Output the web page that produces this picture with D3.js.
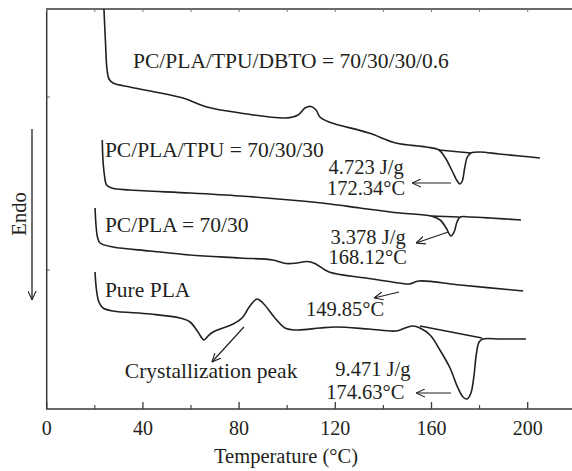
<!DOCTYPE html>
<html>
<head>
<meta charset="utf-8">
<script src="https://cdn.jsdelivr.net/npm/d3@7"></script>
<style>
    html, body { margin: 0; padding: 0; background: #fff; }
    #chart { width: 572px; height: 471px; }
    text { font-family: "Liberation Serif", "Times New Roman", serif; fill: #231f20; }
</style>
</head>
<body>
<div id="chart"></div>
<script>
// DSC curves, [temperature °C, heat flow (arbitrary units, offset per curve)]
const dbtoCurve = [
    [23.8, 400], [24.4, 369], [25.1, 339], [25.9, 330], [27.6, 326], [34.6, 322],
    [43.0, 318], [56.7, 311], [66.6, 302], [80.4, 296], [99.5, 291], [104.5, 294],
    [107.4, 301], [109.9, 302.5], [112.0, 299], [113.6, 292], [117.4, 287], [134.0, 276],
    [145.2, 266], [157.7, 262], [163.1, 259], [165.8, 251], [168.8, 237], [170.7, 228],
    [171.8, 225], [172.8, 228], [173.8, 241], [174.9, 252], [176.4, 256], [180.2, 257],
    [188.1, 255], [196.8, 253], [205.1, 251]
];
const tpuCurve = [
    [23.1, 269], [23.4, 249], [24.0, 234], [24.9, 224], [27.0, 221], [34.6, 219],
    [59.6, 216], [80.4, 213], [101.2, 209], [117.8, 205], [130.3, 201], [146.9, 196],
    [159.8, 193], [163.6, 189], [166.1, 181], [168.1, 173], [169.4, 177], [170.6, 187],
    [171.9, 192], [176.0, 192], [184.4, 191], [197.2, 189]
];
const pcplaCurve = [
    [20.1, 201], [20.5, 184], [21.1, 172], [22.2, 166], [27.6, 162], [43.0, 158],
    [59.6, 154], [80.4, 151], [94.1, 149], [99.5, 145.5], [104.0, 146], [108.2, 147.5],
    [111.5, 145.5], [117.4, 137], [132.8, 131], [146.5, 126], [150.7, 125], [154.8, 128],
    [171.9, 124], [198.1, 118]
];
const plaCurve = [
    [20.1, 137], [20.7, 119], [21.7, 107], [23.4, 101], [27.6, 98], [43.0, 95],
    [55.4, 91], [59.6, 87], [62.9, 77], [65.4, 69], [67.1, 73], [69.2, 77],
    [77.5, 85], [81.2, 91], [84.5, 103], [87.4, 110], [89.9, 106], [94.9, 91],
    [99.1, 81], [104.1, 79], [113.6, 81], [120.3, 82], [134.0, 80], [145.2, 78],
    [149.0, 81], [152.3, 83], [155.2, 81], [159.4, 74], [163.5, 59], [167.7, 41],
    [171.0, 21], [173.1, 12], [174.8, 10], [176.4, 16], [177.7, 34], [178.6, 54],
    [179.8, 67], [181.4, 70], [188.5, 70], [199.3, 70]
];

// tangent lines drawn under the melting peaks
const peakBaselines = [
    [[163.1, 259], [176.4, 256]],
    [[159.8, 193], [171.5, 192]],
    [[155.2, 83], [181.0, 71]]
];

// annotation arrows: [from, to]
const arrows = [
    [[168.1, 226], [151.9, 226]],
    [[166.9, 177], [153.6, 166]],
    [[146.5, 117], [136.1, 111]],
    [[168.1, 16], [153.6, 16]],
    [[82.0, 82], [68.7, 47]]
];

const curveLabels = [
    { text: 'PC/PLA/TPU/DBTO = 70/30/30/0.6', t: 35.9, v: 341 },
    { text: 'PC/PLA/TPU = 70/30/30', t: 24.2, v: 252 },
    { text: 'PC/PLA = 70/30', t: 24.2, v: 177 },
    { text: 'Pure PLA', t: 24.2, v: 112 },
    { text: 'Crystallization peak', t: 32.5, v: 31 }
];
const peakLabels = [
    { text: '4.723 J/g', t: 117.2, v: 235 },
    { text: '172.34°C', t: 116.5, v: 214 },
    { text: '3.378 J/g', t: 118.0, v: 165 },
    { text: '168.12°C', t: 117.2, v: 145 },
    { text: '149.85°C', t: 107.8, v: 93 },
    { text: '9.471 J/g', t: 120.0, v: 33 },
    { text: '174.63°C', t: 116.2, v: 10 }
];

const xTicks = [0, 40, 80, 120, 160, 200];
const xMinorTicks = [20, 60, 100, 140, 180];
const yTicks = [139, 312];

function dscChart (el) {
    const _width = 572;
    const _height = 471;
    const _margins = { top: 9, left: 46.7, bottom: 62 };

    const _x = d3.scaleLinear().domain([0, 220])
        .range([_margins.left, _margins.left + 220 * 2.405]);
    const _y = d3.scaleLinear().domain([0, 400])
        .range([_height - _margins.bottom, _margins.top]);

    const _svg = d3.select(el).append('svg')
        .attr('width', _width)
        .attr('height', _height);

    _svg.append('defs').append('marker')
        .attr('id', 'head')
        .attr('viewBox', '0 0 10 10')
        .attr('refX', 10)
        .attr('refY', 5)
        .attr('markerWidth', 9)
        .attr('markerHeight', 9)
        .attr('markerUnits', 'userSpaceOnUse')
        .attr('orient', 'auto')
        .append('path')
        .attr('d', 'M0,0.5 L10,5 L0,9.5')
        .attr('fill', 'none')
        .attr('stroke', '#231f20')
        .attr('stroke-width', 1.2);

    const x0 = _x(0), x1 = _x(220), yTop = _y(400), yBot = _y(0);

    // frame
    _svg.append('path')
        .attr('d', `M${x1},${yTop}H${x0}V${yBot}H${x1}`)
        .attr('fill', 'none')
        .attr('stroke', '#3a3a3a')
        .attr('stroke-width', 1.5);

    // bottom axis ticks (inward)
    _svg.selectAll('line.major').data(xTicks).enter().append('line')
        .attr('class', 'major')
        .attr('x1', d => _x(d)).attr('x2', d => _x(d))
        .attr('y1', yBot).attr('y2', yBot - 7)
        .attr('stroke', '#3a3a3a').attr('stroke-width', 1.3);
    _svg.selectAll('line.minor').data(xMinorTicks).enter().append('line')
        .attr('class', 'minor')
        .attr('x1', d => _x(d)).attr('x2', d => _x(d))
        .attr('y1', yBot).attr('y2', yBot - 4)
        .attr('stroke', '#3a3a3a').attr('stroke-width', 1.1);
    // top axis ticks
    _svg.selectAll('line.top').data(xTicks.concat(xMinorTicks)).enter().append('line')
        .attr('class', 'top')
        .attr('x1', d => _x(d)).attr('x2', d => _x(d))
        .attr('y1', yTop).attr('y2', yTop + 3)
        .attr('stroke', '#777').attr('stroke-width', 1);
    // left ticks
    _svg.selectAll('line.left').data(yTicks).enter().append('line')
        .attr('class', 'left')
        .attr('x1', x0).attr('x2', x0 + 3)
        .attr('y1', d => _y(d)).attr('y2', d => _y(d))
        .attr('stroke', '#555').attr('stroke-width', 1);

    _svg.selectAll('text.tick').data(xTicks).enter().append('text')
        .attr('class', 'tick')
        .attr('x', d => _x(d))
        .attr('y', yBot + 26)
        .attr('text-anchor', 'middle')
        .attr('font-size', 20)
        .text(d => d);

    _svg.append('text')
        .attr('x', 286)
        .attr('y', yBot + 54)
        .attr('text-anchor', 'middle')
        .attr('font-size', 20.5)
        .text('Temperature (°C)');

    // Endo arrow
    _svg.append('text')
        .attr('transform', 'translate(26,214) rotate(-90)')
        .attr('text-anchor', 'middle')
        .attr('font-size', 20.5)
        .text('Endo');
    _svg.append('line')
        .attr('x1', 32).attr('x2', 32)
        .attr('y1', 129).attr('y2', 300)
        .attr('stroke', '#231f20').attr('stroke-width', 1.3)
        .attr('marker-end', 'url(#head)');

    const line = d3.line()
        .x(d => _x(d[0]))
        .y(d => _y(d[1]))
        .curve(d3.curveCatmullRom.alpha(0.5));

    _svg.selectAll('path.curve')
        .data([dbtoCurve, tpuCurve, pcplaCurve, plaCurve])
        .enter().append('path')
        .attr('class', 'curve')
        .attr('d', line)
        .attr('fill', 'none')
        .attr('stroke', '#231f20')
        .attr('stroke-width', 1.6)
        .attr('stroke-linejoin', 'round');

    _svg.selectAll('line.base').data(peakBaselines).enter().append('line')
        .attr('class', 'base')
        .attr('x1', d => _x(d[0][0])).attr('y1', d => _y(d[0][1]))
        .attr('x2', d => _x(d[1][0])).attr('y2', d => _y(d[1][1]))
        .attr('stroke', '#231f20').attr('stroke-width', 1.3);

    _svg.selectAll('line.arrow').data(arrows).enter().append('line')
        .attr('class', 'arrow')
        .attr('x1', d => _x(d[0][0])).attr('y1', d => _y(d[0][1]))
        .attr('x2', d => _x(d[1][0])).attr('y2', d => _y(d[1][1]))
        .attr('stroke', '#231f20').attr('stroke-width', 1.2)
        .attr('marker-end', 'url(#head)');

    _svg.selectAll('text.curve-label').data(curveLabels).enter().append('text')
        .attr('class', 'curve-label')
        .attr('x', d => _x(d.t))
        .attr('y', d => _y(d.v))
        .attr('font-size', 21.5)
        .text(d => d.text);

    _svg.selectAll('text.peak-label').data(peakLabels).enter().append('text')
        .attr('class', 'peak-label')
        .attr('x', d => _x(d.t))
        .attr('y', d => _y(d.v))
        .attr('font-size', 20.5)
        .text(d => d.text);
}

dscChart(document.getElementById('chart'));
</script>
</body>
</html>
